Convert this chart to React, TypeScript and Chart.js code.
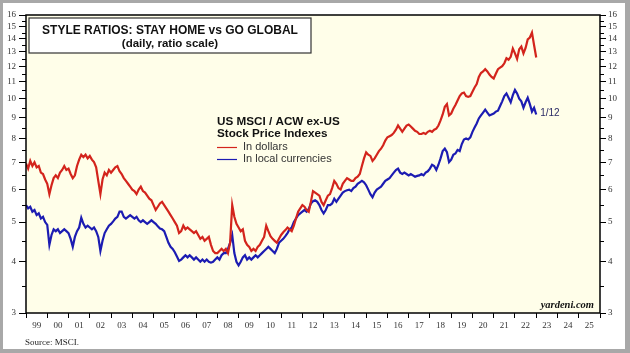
import React, { useEffect, useRef } from "react";
import { Chart, registerables } from "chart.js";

Chart.register(...registerables);

// ---- data ----
const START_YEAR = 1999;
const STEP_YEARS = 0.1;

const YEAR_LABELS = [
  "99", "00", "01", "02", "03", "04", "05", "06", "07", "08", "09", "10", "11", "12",
  "13", "14", "15", "16", "17", "18", "19", "20", "21", "22", "23", "24", "25",
];

const Y_TICKS = [3, 4, 5, 6, 7, 8, 9, 10, 11, 12, 13, 14, 15, 16];
const Y_MINOR = [3.5, 4.5, 5.5, 6.5, 7.5, 8.5, 9.5, 10.5, 11.5, 12.5, 13.5, 14.5, 15.5];

// US MSCI / ACW ex-US, in dollars
const IN_DOLLARS = [
  6.95, 6.75, 7.05, 6.85, 7.0, 6.8, 6.85, 6.6, 6.55, 6.35,
  6.2, 5.85, 6.15, 6.4, 6.5, 6.4, 6.6, 6.7, 6.85, 6.7,
  6.75, 6.55, 6.4, 6.5, 6.85, 7.1, 7.3, 7.2, 7.3, 7.15,
  7.25, 7.1, 7.0, 6.8, 6.3, 5.85, 6.35, 6.6, 6.5, 6.7,
  6.6, 6.7, 6.8, 6.85, 6.65, 6.55, 6.4, 6.3, 6.2, 6.1,
  6.0, 5.95, 5.85, 6.0, 6.1, 5.95, 5.9, 5.8, 5.7, 5.65,
  5.5, 5.35, 5.45, 5.55, 5.6, 5.5, 5.4, 5.3, 5.2, 5.1,
  5.0, 4.9, 4.7, 4.75, 4.9, 4.8, 4.85, 4.8, 4.75, 4.7,
  4.75, 4.65, 4.55, 4.6, 4.5, 4.55, 4.6, 4.4, 4.25, 4.2,
  4.2, 4.25, 4.3, 4.25, 4.3, 4.2, 4.45, 5.5, 5.15, 4.95,
  4.85, 4.75, 4.8, 4.5, 4.4, 4.35, 4.25, 4.3, 4.25, 4.35,
  4.4, 4.5, 4.6, 4.9, 4.75, 4.62, 4.55, 4.5, 4.45, 4.55,
  4.65, 4.72, 4.78, 4.85, 4.8, 4.75, 4.9, 5.1, 5.3, 5.4,
  5.5, 5.45, 5.35, 5.3, 5.6, 5.95, 5.9, 5.85, 5.8, 5.6,
  5.5, 5.65, 5.8, 5.85, 6.05, 6.3, 6.2, 6.05, 6.0, 6.2,
  6.3, 6.4, 6.35, 6.3, 6.3, 6.4, 6.45, 6.55, 6.85, 7.15,
  7.4, 7.3, 7.25, 7.05, 7.15, 7.3, 7.45, 7.55, 7.7, 7.9,
  8.05, 8.1, 8.15, 8.25, 8.4, 8.6, 8.45, 8.3, 8.45, 8.6,
  8.65, 8.55, 8.45, 8.35, 8.3, 8.2, 8.2, 8.25, 8.2, 8.3,
  8.35, 8.3, 8.4, 8.45, 8.6, 8.85, 9.15, 9.55, 9.7, 9.1,
  9.2, 9.45, 9.65, 9.9, 10.15, 10.3, 10.35, 10.15, 10.1, 10.15,
  10.4, 10.65, 10.85, 11.3, 11.55, 11.65, 11.8, 11.65, 11.45, 11.3,
  11.2, 11.5, 11.8, 11.9, 12.0, 12.2, 12.55, 12.45, 12.65, 13.25,
  12.9, 12.5, 13.2, 13.4, 12.9, 13.3, 13.95, 14.1, 14.5, 13.5,
  12.6,
];

// US MSCI / ACW ex-US, in local currencies
const IN_LOCAL = [
  5.5, 5.4, 5.45, 5.3, 5.35, 5.2, 5.25, 5.1, 5.15, 5.0,
  4.92, 4.4, 4.65, 4.8, 4.75, 4.8, 4.7, 4.75, 4.8, 4.75,
  4.7, 4.55, 4.35, 4.6, 4.75, 4.85, 5.12, 4.95, 4.85, 4.9,
  4.85, 4.8, 4.85, 4.75, 4.6, 4.25, 4.5, 4.7, 4.8, 4.9,
  4.95, 5.02, 5.1, 5.15, 5.3, 5.3, 5.15, 5.1, 5.15, 5.2,
  5.15, 5.1, 5.15, 5.05, 5.0, 5.05, 5.0, 4.95, 5.0, 5.05,
  5.0, 4.95, 4.88, 4.82, 4.8, 4.75, 4.6, 4.45, 4.35, 4.3,
  4.22, 4.12, 4.02, 4.05, 4.1, 4.15, 4.1, 4.15, 4.1, 4.05,
  4.1, 4.05, 4.0, 4.05, 4.0, 4.05, 4.0, 3.98, 4.0, 4.05,
  4.1, 4.05, 4.15, 4.2, 4.2, 4.3, 4.45, 4.65, 4.2, 4.0,
  3.92, 4.0, 4.1, 4.15, 4.05, 4.1, 4.05, 4.1, 4.15, 4.1,
  4.15, 4.2, 4.25, 4.3, 4.35, 4.3, 4.25, 4.2, 4.3, 4.45,
  4.5, 4.55, 4.62, 4.7, 4.8, 4.85, 5.0, 5.1, 5.2, 5.25,
  5.3, 5.35, 5.3, 5.38, 5.55, 5.62, 5.65, 5.6, 5.5, 5.35,
  5.25, 5.35, 5.5, 5.5, 5.55, 5.7, 5.6, 5.7, 5.8, 5.9,
  5.95, 5.98, 6.0, 5.95, 6.05, 6.1, 6.2, 6.25, 6.3, 6.25,
  6.15, 6.0, 5.85, 5.75, 5.9, 6.0, 6.05, 6.1, 6.2, 6.3,
  6.35, 6.4, 6.5, 6.6, 6.7, 6.75, 6.6, 6.55, 6.6, 6.55,
  6.5, 6.55, 6.5, 6.45, 6.48, 6.5, 6.55, 6.5, 6.6, 6.65,
  6.75, 6.9, 6.85, 6.7, 6.9, 7.15, 7.45, 7.55, 7.4, 7.0,
  7.1, 7.3, 7.35, 7.5, 7.45, 7.75, 7.95, 8.0, 7.95, 8.05,
  8.3, 8.5, 8.7, 8.95, 9.1, 9.25, 9.4, 9.25, 9.1, 9.15,
  9.2, 9.3, 9.35, 9.6, 9.85, 10.15, 10.3, 10.05, 9.8, 10.2,
  10.5, 10.3, 10.0, 9.85, 9.5, 9.8, 10.05, 9.7, 9.3, 9.5,
  9.15,
];

const END_LABEL = "1/12";

const RED = "#d3241c";
const BLUE = "#1c1cb2";

const toPoints = (vals: number[]) =>
  vals.map((v, i) => ({ x: START_YEAR + i * STEP_YEARS, y: v }));

const SERIF = "'Liberation Serif', 'Times New Roman', serif";
const SANS = "'Liberation Sans', Arial, sans-serif";

const decorPlugin = {
  id: "decor",
  beforeDraw(chart: any) {
    const { ctx, chartArea } = chart;
    ctx.save();
    ctx.fillStyle = "#fffee9";
    ctx.fillRect(chartArea.left, chartArea.top, chartArea.right - chartArea.left, chartArea.bottom - chartArea.top);
    ctx.restore();
  },
  afterDraw(chart: any) {
    const { ctx, chartArea } = chart;
    const { left, top, right, bottom } = chartArea;
    const yS = chart.scales.y;
    ctx.save();
    // minor ticks
    ctx.strokeStyle = "#000";
    ctx.lineWidth = 1;
    Y_MINOR.forEach((v) => {
      const py = Math.round(yS.getPixelForValue(v)) + 0.5;
      ctx.beginPath();
      ctx.moveTo(left - 4, py);
      ctx.lineTo(left, py);
      ctx.moveTo(right, py);
      ctx.lineTo(right + 4, py);
      ctx.stroke();
    });
    // frame
    ctx.lineWidth = 1.5;
    ctx.strokeRect(left, top, right - left, bottom - top);

    // title box
    const bx = left + 3, by = top + 3, bw = 282, bh = 35;
    ctx.fillStyle = "#ffffff";
    ctx.fillRect(bx, by, bw, bh);
    ctx.strokeStyle = "#333";
    ctx.lineWidth = 1.2;
    ctx.strokeRect(bx, by, bw, bh);
    ctx.fillStyle = "#111";
    ctx.textAlign = "center";
    ctx.textBaseline = "middle";
    ctx.font = `bold 12px ${SANS}`;
    ctx.fillText("STYLE RATIOS: STAY HOME vs GO GLOBAL", bx + bw / 2, by + 13);
    ctx.font = `bold 11.5px ${SANS}`;
    ctx.fillText("(daily, ratio scale)", bx + bw / 2, by + 25.5);

    // legend
    const lx = 217;
    ctx.textAlign = "left";
    ctx.fillStyle = "#111";
    ctx.font = `bold 11.7px ${SANS}`;
    ctx.fillText("US MSCI / ACW ex-US", lx, 122);
    ctx.fillText("Stock Price Indexes", lx, 133.5);
    ctx.font = `11px ${SANS}`;
    ctx.fillStyle = "#333";
    ctx.fillText("In dollars", lx + 26, 147);
    ctx.fillText("In local currencies", lx + 26, 159);
    ctx.lineWidth = 1.2;
    ctx.strokeStyle = RED;
    ctx.beginPath();
    ctx.moveTo(lx, 147.5);
    ctx.lineTo(lx + 20, 147.5);
    ctx.stroke();
    ctx.strokeStyle = BLUE;
    ctx.beginPath();
    ctx.moveTo(lx, 159.5);
    ctx.lineTo(lx + 20, 159.5);
    ctx.stroke();

    // end label
    const meta = chart.getDatasetMeta(1);
    const last = meta.data[meta.data.length - 1];
    ctx.fillStyle = "#2b2b66";
    ctx.font = `10px ${SANS}`;
    ctx.fillText(END_LABEL, last.x + 4, last.y - 1);

    // yardeni.com
    ctx.textAlign = "right";
    ctx.textBaseline = "alphabetic";
    ctx.fillStyle = "#111";
    ctx.font = `italic bold 10.5px ${SERIF}`;
    ctx.fillText("yardeni.com", right - 6, bottom - 5);

    // source
    ctx.textAlign = "left";
    ctx.fillStyle = "#222";
    ctx.font = `9px ${SERIF}`;
    ctx.fillText("Source: MSCI.", 25, 345);
    ctx.restore();
  },
};

export default function App() {
  const ref = useRef<HTMLCanvasElement | null>(null);

  useEffect(() => {
    document.body.style.margin = "0";
    const canvas = ref.current;
    if (!canvas) return;
    const yAxisCommon = (side: "left" | "right", width: number, tickLen: number, pad: number) => ({
      type: "logarithmic" as const,
      position: side,
      min: 3,
      max: 16,
      afterBuildTicks: (scale: any) => {
        scale.ticks = Y_TICKS.map((v) => ({ value: v }));
      },
      afterFit: (scale: any) => {
        scale.width = width;
      },
      grid: {
        drawOnChartArea: false,
        drawTicks: true,
        tickLength: tickLen,
        color: "#000",
        lineWidth: 1,
      },
      border: { display: false },
      ticks: {
        autoSkip: false,
        padding: pad,
        color: "#333",
        font: { family: SERIF, size: 9 },
        callback: (v: any) => String(v),
      },
    });

    const chart = new Chart(canvas, {
      type: "line",
      data: {
        datasets: [
          {
            label: "In dollars",
            data: toPoints(IN_DOLLARS),
            borderColor: RED,
            borderWidth: 2.2,
            pointRadius: 0,
            tension: 0,
            xAxisID: "x",
            yAxisID: "y",
          },
          {
            label: "In local currencies",
            data: toPoints(IN_LOCAL),
            borderColor: BLUE,
            borderWidth: 2.2,
            pointRadius: 0,
            tension: 0,
            xAxisID: "x",
            yAxisID: "y",
          },
        ],
      },
      options: {
        responsive: false,
        animation: false,
        devicePixelRatio: 1,
        layout: { padding: { top: 15, left: 0, right: 0, bottom: 0 } },
        plugins: {
          legend: { display: false },
          tooltip: { enabled: false },
          title: { display: false },
        },
        scales: {
          x: {
            type: "linear",
            min: START_YEAR,
            max: START_YEAR + YEAR_LABELS.length,
            display: false,
          },
          xYears: {
            type: "category",
            labels: YEAR_LABELS,
            position: "bottom",
            offset: true,
            afterFit: (scale: any) => {
              scale.height = 40;
            },
            grid: {
              offset: true,
              drawOnChartArea: false,
              drawTicks: true,
              tickLength: 5,
              color: "#000",
              lineWidth: 1,
            },
            border: { display: false },
            ticks: {
              autoSkip: false,
              maxRotation: 0,
              padding: 2,
              color: "#333",
              font: { family: SERIF, size: 9 },
            },
          },
          y: yAxisCommon("left", 26, 7, 3),
          y2: yAxisCommon("right", 30, 6, 2),
        },
      } as any,
      plugins: [decorPlugin],
    });
    return () => chart.destroy();
  }, []);

  return (
    <div style={{ position: "relative", width: 630, height: 353, background: "#a8a8a8" }}>
      <div
        style={{
          position: "absolute",
          left: 3,
          top: 3,
          width: 622,
          height: 346,
          background: "#ffffff",
        }}
      />
      <canvas
        ref={ref}
        width={630}
        height={353}
        style={{ position: "absolute", left: 0, top: 0, width: 630, height: 353 }}
      />
    </div>
  );
}
